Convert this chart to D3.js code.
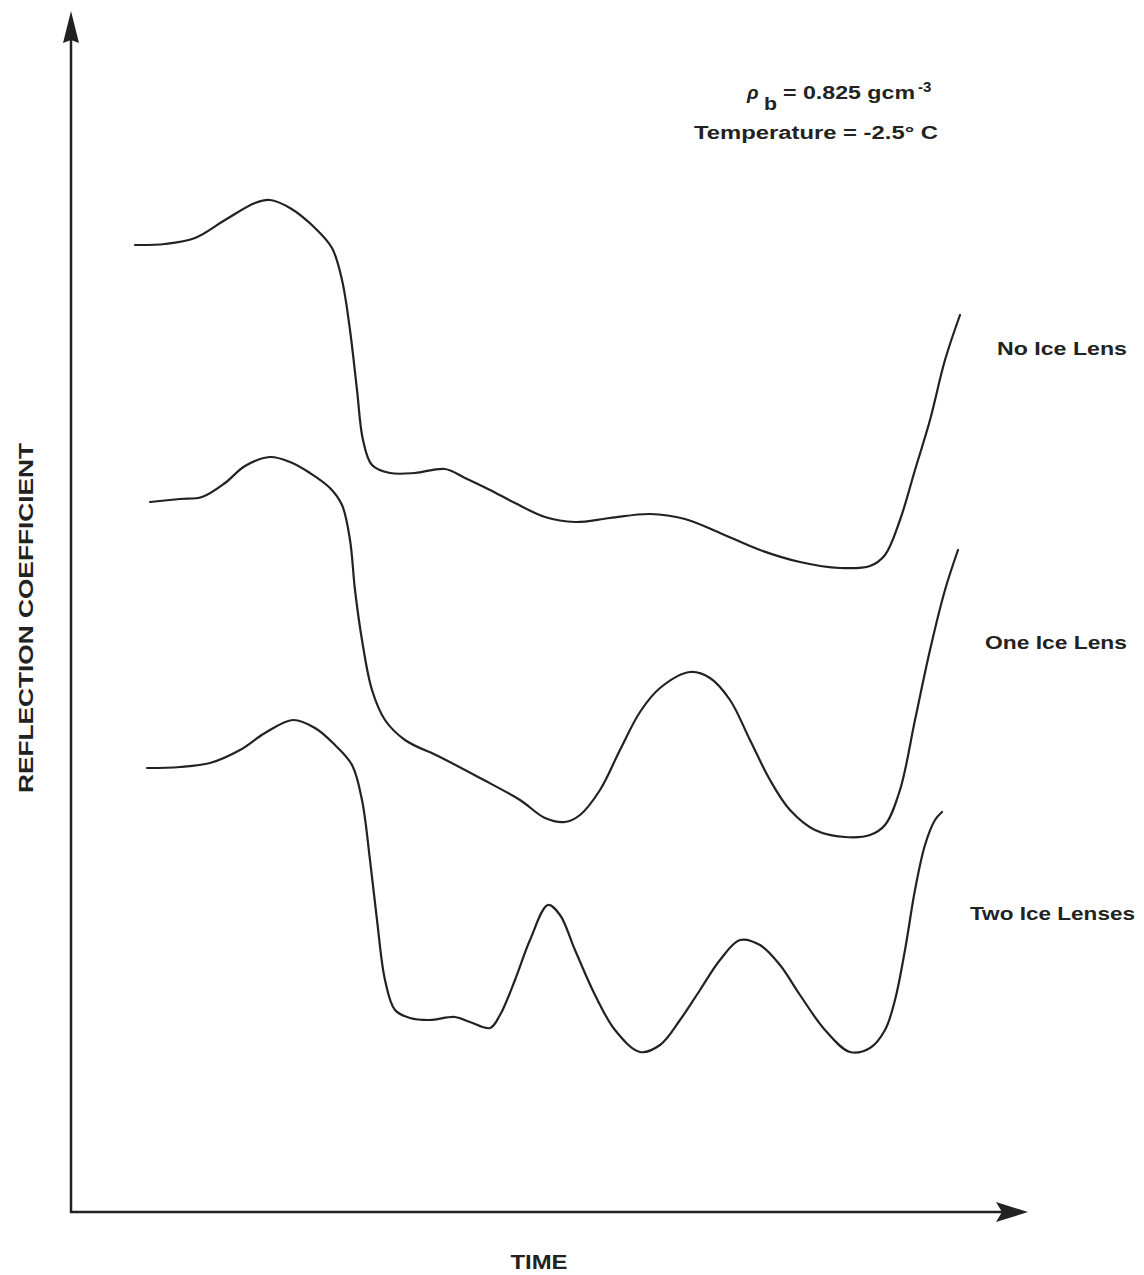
<!DOCTYPE html>
<html>
<head>
<meta charset="utf-8">
<script src="https://cdn.jsdelivr.net/npm/d3@7"></script>
<style>
  html, body { margin: 0; padding: 0; background: #fff; }
  svg { display: block; }
  text { font-family: "Liberation Sans", Arial, sans-serif; font-weight: bold; fill: #222; }
</style>
</head>
<body>
<svg id="chart" width="1144" height="1275"></svg>
<script>
// Reflection coefficient vs. time (arbitrary units) for three ice-lens cases.
const seriesNames = ["No Ice Lens", "One Ice Lens", "Two Ice Lenses"];

const noIceLens = [
  [64,967],[94,968],[124,974],[154,992],[184,1009],[199,1012],[219,1004],[244,984],
  [261,964],[271,932],[279,882],[286,822],[292,772],[301,747],[319,739],[344,739],
  [374,743],[394,734],[419,722],[444,709],[474,695],[504,690],[539,694],[579,698],
  [614,693],[649,679],[689,662],[729,650],[769,644],[799,646],[814,657],[829,692],
  [844,742],[859,792],[874,852],[889,897]
];

const oneIceLens = [
  [79,710],[109,713],[131,715],[154,729],[174,746],[199,755],[219,750],[239,739],
  [259,724],[271,707],[279,672],[284,622],[291,572],[301,522],[314,492],[334,472],
  [369,455],[409,434],[449,412],[474,394],[494,390],[509,397],[529,422],[549,462],
  [569,500],[589,524],[619,540],[639,534],[659,512],[679,472],[699,432],[719,402],
  [744,382],[774,375],[799,377],[814,387],[829,422],[844,492],[859,562],[874,622],
  [887,662]
];

const twoIceLenses = [
  [76,444],[109,445],[139,449],[169,462],[194,479],[222,492],[244,484],[264,467],
  [281,447],[291,412],[299,352],[306,292],[314,232],[324,202],[339,194],[359,192],
  [384,195],[399,190],[419,184],[429,197],[444,232],[459,272],[477,307],[489,297],
  [504,262],[524,217],[544,182],[569,160],[589,167],[609,192],[629,222],[649,252],
  [669,272],[689,267],[709,247],[729,217],[754,182],[779,160],[799,164],[814,182],
  [824,212],[834,262],[844,322],[854,367],[864,392],[871,400]
];

// Label anchor values (time, reflection) for each curve name
const labelPos = [[926, 857], [914, 563], [899, 292]];

const svg = d3.select("#chart");

const x = d3.scaleLinear().domain([0, 960]).range([71, 1031]);
const y = d3.scaleLinear().domain([0, 1200]).range([1212, 12]);

const ink = "#222";

// Axes with arrowheads
const x0 = x(0), y0 = y(0), xEnd = x(957), yEnd = y(1201);
svg.append("line")
  .attr("x1", x0).attr("y1", y0 + 1).attr("x2", x0).attr("y2", yEnd + 20)
  .attr("stroke", ink).attr("stroke-width", 2.5);
svg.append("line")
  .attr("x1", x0 - 1).attr("y1", y0).attr("x2", xEnd - 20).attr("y2", y0)
  .attr("stroke", ink).attr("stroke-width", 2.5);

svg.append("path")
  .attr("d", `M${x0},${yEnd} L${x0 + 8},${yEnd + 32} L${x0},${yEnd + 29} L${x0 - 8},${yEnd + 32} Z`)
  .attr("fill", ink);
svg.append("path")
  .attr("d", `M${xEnd},${y0} L${xEnd - 32},${y0 + 10} L${xEnd - 26},${y0} L${xEnd - 32},${y0 - 10} Z`)
  .attr("fill", ink);

// Curves
const line = d3.line()
  .x(d => x(d[0]))
  .y(d => y(d[1]))
  .curve(d3.curveCatmullRom.alpha(0.5));

[noIceLens, oneIceLens, twoIceLenses].forEach(data => {
  svg.append("path")
    .datum(data)
    .attr("d", line)
    .attr("fill", "none")
    .attr("stroke", ink)
    .attr("stroke-width", 2.2)
    .attr("stroke-linecap", "round")
    .attr("stroke-linejoin", "round");
});

// Wide lettering: stretch glyphs to the given run length
function label(xp, yp, str, size, width, extra) {
  const t = svg.append("text")
    .attr("x", xp).attr("y", yp)
    .attr("font-size", size)
    .text(str);
  if (width) t.attr("textLength", width).attr("lengthAdjust", "spacingAndGlyphs");
  if (extra) extra(t);
  return t;
}

// Curve labels
const labelWidths = [130, 142, 165];
seriesNames.forEach((name, i) => {
  label(x(labelPos[i][0]), y(labelPos[i][1]), name, 19, labelWidths[i]);
});

// Conditions annotation
label(747, 99, "ρ", 19, 0, t => t.attr("font-style", "italic").attr("font-weight", "normal"));
label(764, 110, "b", 19, 13);
label(783, 99, "= 0.825 gcm", 18, 132);
label(918, 92, "-3", 15, 0);
label(694, 139, "Temperature = -2.5° C", 18, 244);

// Axis titles
svg.append("text")
  .attr("transform", `translate(33, 618) rotate(-90)`)
  .attr("text-anchor", "middle")
  .attr("font-size", 21)
  .attr("textLength", 350).attr("lengthAdjust", "spacingAndGlyphs")
  .text("REFLECTION COEFFICIENT");

svg.append("text")
  .attr("x", 539).attr("y", 1269)
  .attr("text-anchor", "middle")
  .attr("font-size", 20)
  .attr("textLength", 57).attr("lengthAdjust", "spacingAndGlyphs")
  .text("TIME");
</script>
</body>
</html>
